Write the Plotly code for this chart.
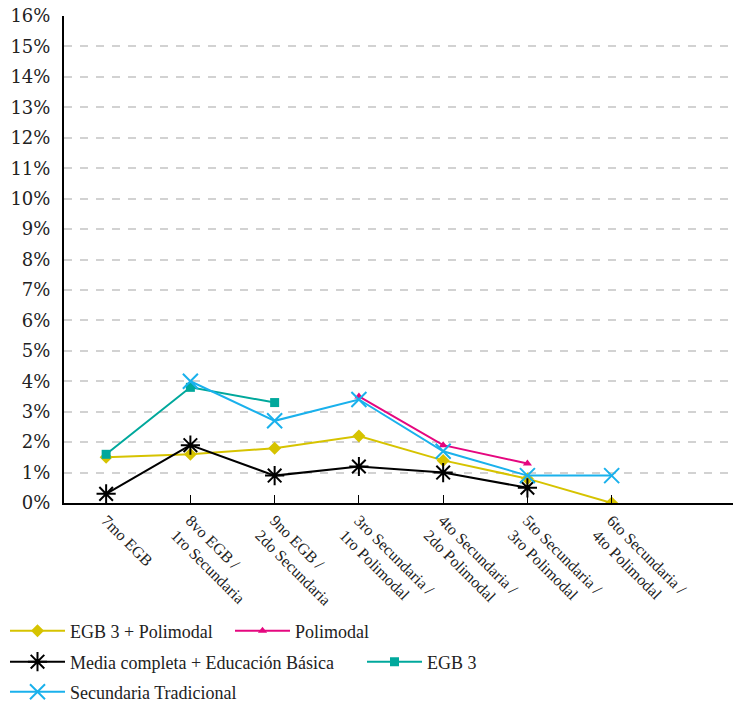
import plotly.graph_objects as go

# School grades (x axis categories)
categories = [
    "7mo EGB",
    "8vo EGB /<br>1ro Secundaria",
    "9no EGB /<br>2do Secundaria",
    "3ro Secundaria /<br>1ro Polimodal",
    "4to Secundaria /<br>2do Polimodal",
    "5to Secundaria /<br>3ro Polimodal",
    "6to Secundaria /<br>4to Polimodal",
]
x_idx = list(range(len(categories)))

# Percentages per school structure (None = no data)
egb3_polimodal = [1.5, 1.6, 1.8, 2.2, 1.4, 0.8, 0.0]
polimodal = [None, None, None, 3.5, 1.9, 1.3, None]
media_completa = [0.3, 1.9, 0.9, 1.2, 1.0, 0.5, None]
egb3 = [1.6, 3.8, 3.3, None, None, None, None]
secundaria_trad = [None, 4.0, 2.7, 3.4, 1.7, 0.9, 0.9]

y_ticks = list(range(0, 17))
y_ticktext = [f"{v}%" for v in y_ticks]

# name, values, colour, marker, legend id, legend position (px from left, px from top)
series = [
    ("EGB 3 + Polimodal", egb3_polimodal, "#d6c300",
     dict(symbol="diamond", size=10), "legend", (5, 631)),
    ("Polimodal", polimodal, "#e5077f",
     dict(symbol="triangle-up", size=8), "legend2", (230, 631)),
    ("Media completa + Educación Básica", media_completa, "#000000",
     dict(symbol="asterisk-open", size=16, line=dict(width=2, color="#000000")),
     "legend3", (5, 662)),
    ("EGB 3", egb3, "#00a89c",
     dict(symbol="square", size=9), "legend4", (362, 662)),
    ("Secundaria Tradicional", secundaria_trad, "#1ab1ec",
     dict(symbol="x-thin-open", size=15, line=dict(width=2, color="#1ab1ec")),
     "legend5", (5, 692)),
]

W, H = 733, 704

fig = go.Figure()
legends = {}
for name, vals, color, marker, leg, (lx, ly) in series:
    fig.add_trace(go.Scatter(
        x=x_idx, y=vals, name=name, mode="lines+markers",
        line=dict(color=color, width=2),
        marker=dict(color=color, **marker),
        legend=leg,
    ))
    legends[leg] = dict(
        orientation="h", xref="container", yref="container",
        x=lx / W, y=1 - ly / H, xanchor="left", yanchor="middle",
        font=dict(family="Liberation Serif", size=18, color="#222222"),
        itemwidth=55, bgcolor="rgba(0,0,0,0)",
    )

fig.update_layout(
    width=W, height=H,
    margin=dict(l=64, r=0, t=16, b=201),
    plot_bgcolor="white", paper_bgcolor="white",
    showlegend=True,
    xaxis=dict(
        range=[-0.5, 7.44], tickvals=x_idx, ticktext=categories,
        tickangle=45, ticks="inside", ticklen=8, tickwidth=1, tickcolor="#000",
        showline=True, linecolor="#000", linewidth=2,
        showgrid=False, zeroline=False,
        tickfont=dict(family="Liberation Serif", size=16, color="#222222"),
    ),
    yaxis=dict(
        range=[0, 16], tickvals=y_ticks, ticktext=y_ticktext,
        showline=True, linecolor="#000", linewidth=2,
        showgrid=True, gridcolor="#d2d2d2", gridwidth=2, griddash="8px,8px",
        zeroline=False, ticks="", ticklabelstandoff=8,
        tickfont=dict(family="DejaVu Serif", size=18, color="#222222"),
    ),
    **legends,
)

fig.write_html("out.html")
